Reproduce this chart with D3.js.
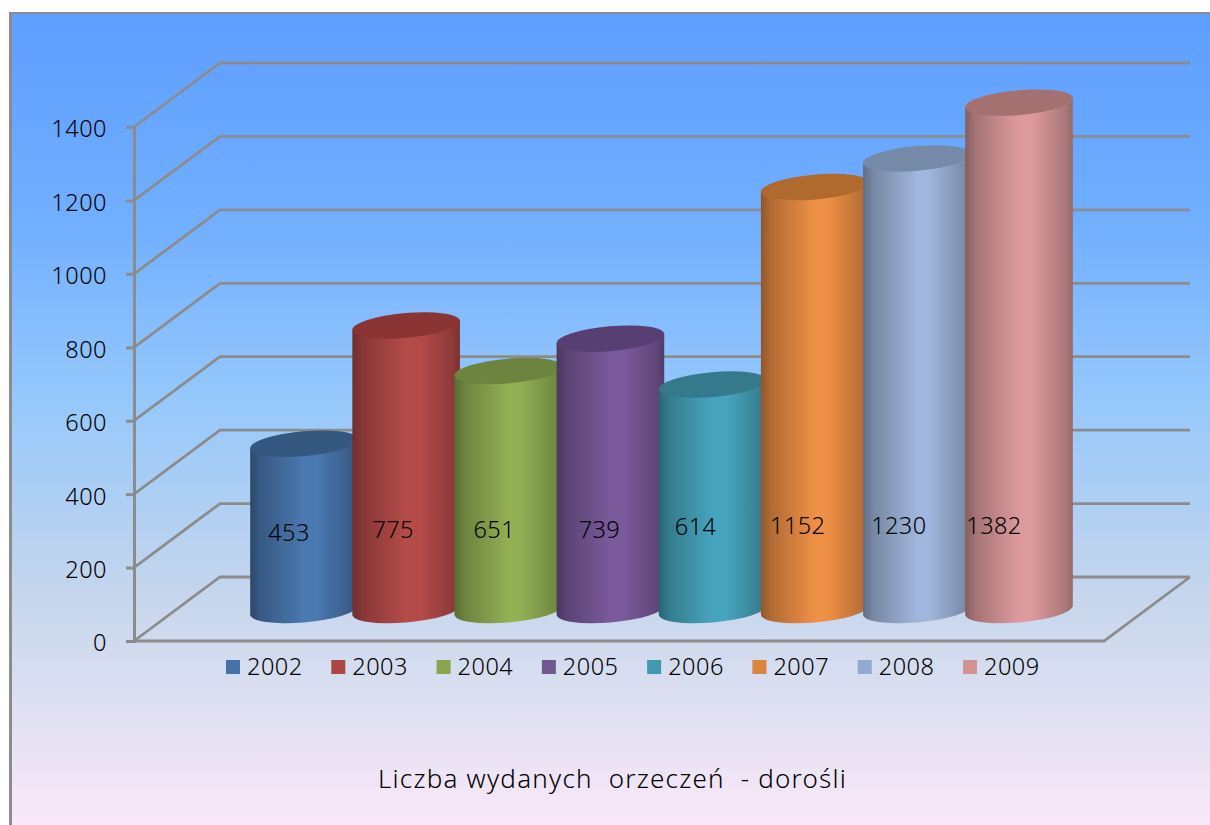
<!DOCTYPE html>
<html>
<head>
<meta charset="utf-8">
<script src="https://cdn.jsdelivr.net/npm/d3@7"></script>
<style>
    html, body { margin: 0; padding: 0; background: #fff; }
    svg { display: block; }
    text { font-family: "Noto Sans", sans-serif; font-weight: 300; fill: #000; white-space: pre; }
</style>
</head>
<body>
<div id="chart"></div>
<script>
const years = ["2002", "2003", "2004", "2005", "2006", "2007", "2008", "2009"];
const values = [453, 775, 651, 739, 614, 1152, 1230, 1382];
const tickValues = [0, 200, 400, 600, 800, 1000, 1200, 1400];
const sideColors = ["#4a78b0", "#b54b49", "#92b054", "#7a5a9b", "#46a5be", "#ee9045", "#a0b6dc", "#dd9a9d"];
const topColors = ["#34587f", "#8a3533", "#6d8440", "#583f73", "#357a8c", "#b06a2e", "#758aa8", "#a47070"];
const legendColors = ["#4572a7", "#aa4643", "#89a54e", "#71588f", "#4198af", "#db843d", "#93a9cf", "#d19392"];
const titleText = "Liczba wydanych  orzeczeń  - dorośli";

// hand nudges for the data labels, they do not sit centred on the cylinders
const labelDx = [-15, -13, -14, -11, -17, -17, -18, -25];
const labelDy = [3, 0, 0, 0, -3, -4, -4, -4];

const width = 1210, height = 825;
const depthX = 86, depthY = -64;
const barRx = 54, barRy = 12.4, barTilt = -5;

const svg = d3.select("#chart").append("svg")
    .attr("width", width)
    .attr("height", height);
const defs = svg.append("defs");

// background
const bg = defs.append("linearGradient")
    .attr("id", "bg")
    .attr("x1", 0).attr("y1", 0).attr("x2", 0).attr("y2", 1);
[[0, "#5e9eff"], [0.25, "#70aeff"], [0.48, "#96c8fb"], [0.72, "#c6d6ec"], [0.85, "#dde0f1"], [1, "#fae8f9"]]
    .forEach(s => bg.append("stop").attr("offset", s[0]).attr("stop-color", s[1]));

svg.append("rect")
    .attr("x", 9).attr("y", 12)
    .attr("width", width - 9).attr("height", height - 12)
    .attr("fill", "#8c8c8c");
svg.append("rect")
    .attr("x", 12).attr("y", 14)
    .attr("width", width - 12).attr("height", height - 14)
    .attr("fill", "url(#bg)");

// scales
const y = d3.scaleLinear().domain([0, 1400]).range([641, 127]);
const x = d3.scalePoint().domain(years).range([304, 1019]);
const legendX = d3.scalePoint().domain(years).range([226, 963]);
const axisX = 134, floorRight = 1104;
const baseY = 610;

// gridlines: back wall, and the diagonal running to the axis
const grid = svg.append("g")
    .attr("fill", "none")
    .attr("stroke", "#8c8c8c")
    .attr("stroke-width", 2.8);

grid.selectAll(".wall")
    .data(tickValues)
    .enter()
    .append("path")
    .attr("class", "wall")
    .attr("d", d => `M ${axisX} ${y(d)} L ${axisX + depthX} ${y(d) + depthY} L ${floorRight + depthX} ${y(d) + depthY}`);

grid.append("path")
    .attr("d", `M ${axisX} ${y(0)} L ${floorRight} ${y(0)} L ${floorRight + depthX} ${y(0) + depthY}`);

// axis
const axis = svg.append("g")
    .attr("transform", `translate(${axisX},0)`)
    .call(d3.axisLeft(y).tickValues(tickValues).tickSize(8).tickPadding(19).tickFormat(d3.format("d")));
axis.selectAll("line, path").attr("stroke", "#8c8c8c").attr("stroke-width", 3);
axis.selectAll("text")
    .attr("font-size", 23.5)
    .attr("dy", "0.42em")
    .attr("letter-spacing", 0.5)
    .style("font-family", '"Noto Sans", sans-serif');

// cylinders
function edgeOffset() {
    let phi = barTilt * Math.PI / 180;
    let t = Math.atan(-(barRy / barRx) * Math.tan(phi));
    return {
        dx: barRx * Math.cos(t) * Math.cos(phi) - barRy * Math.sin(t) * Math.sin(phi),
        dy: barRx * Math.cos(t) * Math.sin(phi) + barRy * Math.sin(t) * Math.cos(phi)
    };
}
const edge = edgeOffset();

years.forEach((year, i) => {
    let grad = defs.append("linearGradient")
        .attr("id", "side" + i)
        .attr("x1", 0).attr("y1", 0).attr("x2", 1).attr("y2", 0);
    let base = d3.color(sideColors[i]);
    grad.append("stop").attr("offset", 0).attr("stop-color", base.darker(1.4));
    grad.append("stop").attr("offset", 0.1).attr("stop-color", base.darker(0.8));
    grad.append("stop").attr("offset", 0.5).attr("stop-color", base);
    grad.append("stop").attr("offset", 0.62).attr("stop-color", base);
    grad.append("stop").attr("offset", 0.93).attr("stop-color", base.darker(0.7));
    grad.append("stop").attr("offset", 1).attr("stop-color", base.darker(1.1));
});

const bars = svg.selectAll(".bar")
    .data(values)
    .enter()
    .append("g")
    .attr("class", "bar");

bars.append("path")
    .attr("fill", (d, i) => `url(#side${i})`)
    .attr("d", (d, i) => {
        let cx = x(years[i]);
        let top = baseY - (y(0) - y(d));
        return `M ${cx - edge.dx} ${top - edge.dy}
            L ${cx - edge.dx} ${baseY - edge.dy}
            A ${barRx} ${barRy} ${barTilt} 0 0 ${cx + edge.dx} ${baseY + edge.dy}
            L ${cx + edge.dx} ${top + edge.dy} Z`;
    });

bars.append("ellipse")
    .attr("fill", (d, i) => topColors[i])
    .attr("rx", barRx)
    .attr("ry", barRy)
    .attr("transform", (d, i) => `translate(${x(years[i])},${baseY - (y(0) - y(d))}) rotate(${barTilt})`);

// data labels
svg.selectAll(".label")
    .data(values)
    .enter()
    .append("text")
    .attr("class", "label")
    .attr("x", (d, i) => x(years[i]) + labelDx[i])
    .attr("y", (d, i) => 530 + labelDy[i])
    .attr("dy", "0.36em")
    .attr("text-anchor", "middle")
    .attr("font-size", 23.5)
    .attr("letter-spacing", 0.4)
    .text(d => d);

// legend
const legend = svg.selectAll(".legend")
    .data(years)
    .enter()
    .append("g")
    .attr("class", "legend")
    .attr("transform", d => `translate(${legendX(d)},660)`);

legend.append("rect")
    .attr("width", 14)
    .attr("height", 14)
    .attr("fill", (d, i) => legendColors[i]);

legend.append("text")
    .attr("x", 21)
    .attr("y", 7)
    .attr("dy", "0.36em")
    .attr("font-size", 23.5)
    .attr("letter-spacing", 0.5)
    .text(d => d);

// title sits under the legend
svg.append("text")
    .attr("x", 612.5)
    .attr("y", 779)
    .attr("dy", "0.36em")
    .attr("text-anchor", "middle")
    .attr("font-size", 26)
    .attr("letter-spacing", 1.22)
    .text(titleText);
</script>
</body>
</html>
